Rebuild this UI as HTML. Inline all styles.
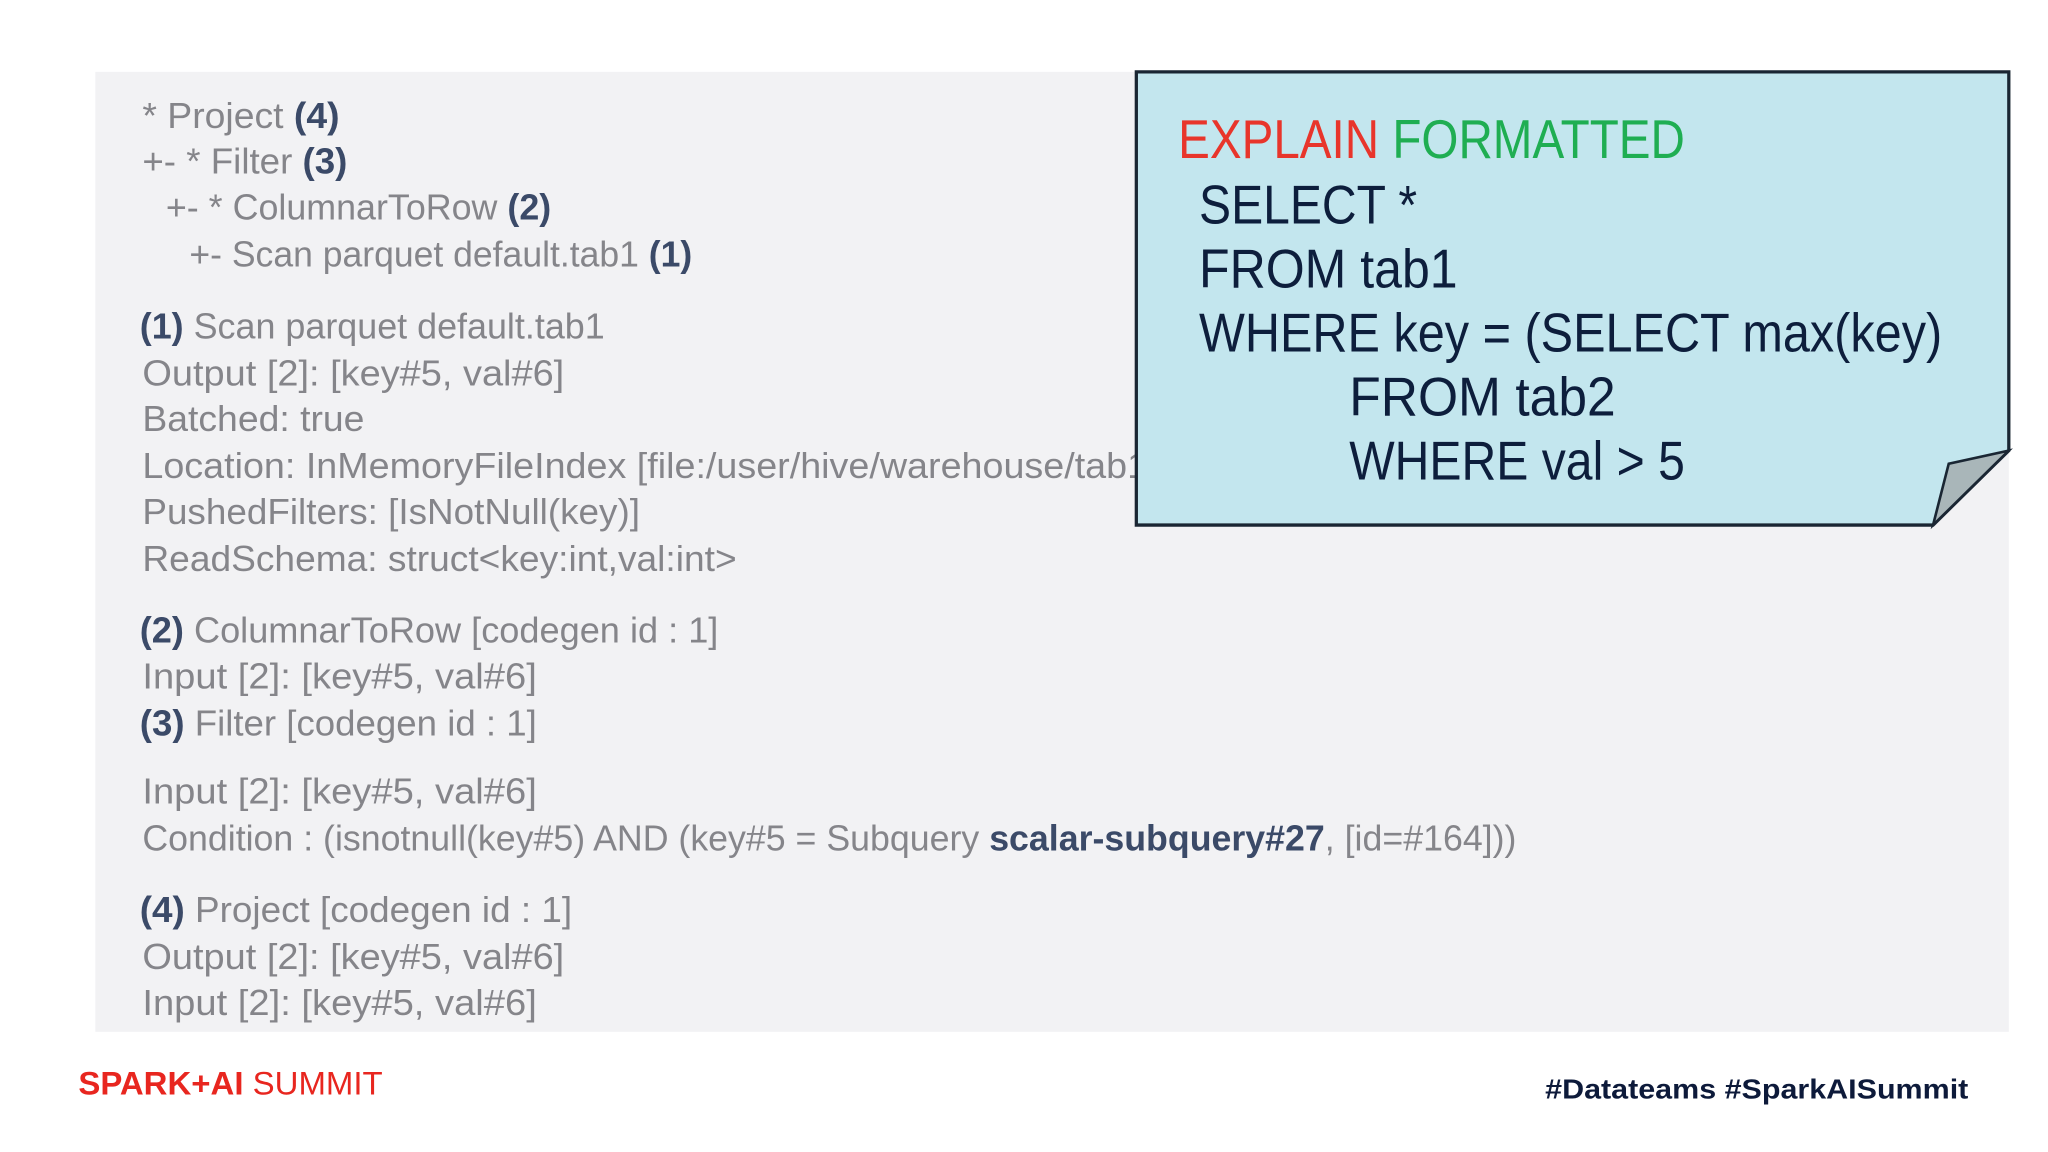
<!DOCTYPE html>
<html><head><meta charset="utf-8"><style>
html,body{margin:0;padding:0;background:#fff;width:2048px;height:1152px;overflow:hidden}
svg{display:block}
.g{font-family:"Liberation Sans",sans-serif;font-size:28px;fill:#85858a;font-weight:normal}
.b{font-weight:bold;fill:#3b4a68}
.q{font-family:"Liberation Sans",sans-serif;font-size:42px;fill:#0d1e3c}
</style></head><body>
<svg width="2048" height="1152" viewBox="0 0 1568 882" xmlns="http://www.w3.org/2000/svg" xml:space="preserve">
<rect x="0" y="0" width="1568" height="882" fill="#ffffff"/>
<rect x="73" y="55" width="1465" height="735" fill="#f2f2f4"/>
<g class="g">
<text x="109" y="98" textLength="151" lengthAdjust="spacingAndGlyphs">* Project <tspan class="b">(4)</tspan></text>
<text x="109" y="133" textLength="157" lengthAdjust="spacingAndGlyphs">+- * Filter <tspan class="b">(3)</tspan></text>
<text x="127" y="168" textLength="295" lengthAdjust="spacingAndGlyphs">+- * ColumnarToRow <tspan class="b">(2)</tspan></text>
<text x="145" y="204" textLength="385" lengthAdjust="spacingAndGlyphs">+- Scan parquet default.tab1 <tspan class="b">(1)</tspan></text>
<text x="107" y="259" textLength="356" lengthAdjust="spacingAndGlyphs"><tspan class="b">(1)</tspan> Scan parquet default.tab1</text>
<text x="109" y="295" textLength="323" lengthAdjust="spacingAndGlyphs">Output [2]: [key#5, val#6]</text>
<text x="109" y="330" textLength="170" lengthAdjust="spacingAndGlyphs">Batched: true</text>
<text x="109" y="366" textLength="770" lengthAdjust="spacingAndGlyphs">Location: InMemoryFileIndex [file:/user/hive/warehouse/tab1</text>
<text x="109" y="401" textLength="381" lengthAdjust="spacingAndGlyphs">PushedFilters: [IsNotNull(key)]</text>
<text x="109" y="437" textLength="455" lengthAdjust="spacingAndGlyphs">ReadSchema: struct&lt;key:int,val:int&gt;</text>
<text x="107" y="492" textLength="443" lengthAdjust="spacingAndGlyphs"><tspan class="b">(2)</tspan> ColumnarToRow [codegen id : 1]</text>
<text x="109" y="527" textLength="302" lengthAdjust="spacingAndGlyphs">Input [2]: [key#5, val#6]</text>
<text x="107" y="563" textLength="304" lengthAdjust="spacingAndGlyphs"><tspan class="b">(3)</tspan> Filter [codegen id : 1]</text>
<text x="109" y="615" textLength="302" lengthAdjust="spacingAndGlyphs">Input [2]: [key#5, val#6]</text>
<text x="109" y="651" textLength="1052" lengthAdjust="spacingAndGlyphs">Condition : (isnotnull(key#5) AND (key#5 = Subquery <tspan class="b">scalar-subquery#27</tspan>, [id=#164]))</text>
<text x="107" y="706" textLength="331" lengthAdjust="spacingAndGlyphs"><tspan class="b">(4)</tspan> Project [codegen id : 1]</text>
<text x="109" y="742" textLength="323" lengthAdjust="spacingAndGlyphs">Output [2]: [key#5, val#6]</text>
<text x="109" y="777" textLength="302" lengthAdjust="spacingAndGlyphs">Input [2]: [key#5, val#6]</text>
</g>
<polygon points="870,55 1538,55 1538,345 1480,402 870,402" fill="#c3e6ee" stroke="#1a2633" stroke-width="2.5"/>
<polygon points="1480,402 1538,345 1492,355" fill="#a9b6b9" stroke="#1a2633" stroke-width="2"/>
<text class="q" x="902" y="121" textLength="388" lengthAdjust="spacingAndGlyphs"><tspan fill="#e8352b">EXPLAIN</tspan> <tspan fill="#1fae52">FORMATTED</tspan></text>
<text class="q" x="918" y="171" textLength="167" lengthAdjust="spacingAndGlyphs">SELECT *</text>
<text class="q" x="918" y="220" textLength="198" lengthAdjust="spacingAndGlyphs">FROM  tab1</text>
<text class="q" x="918" y="269" textLength="569" lengthAdjust="spacingAndGlyphs">WHERE  key = (SELECT max(key)</text>
<text class="q" x="1033" y="318" textLength="204" lengthAdjust="spacingAndGlyphs">FROM  tab2</text>
<text class="q" x="1033" y="367" textLength="257" lengthAdjust="spacingAndGlyphs">WHERE  val &gt; 5</text>
<text x="60" y="838" font-family="Liberation Sans, sans-serif" font-size="25" fill="#e8261f" textLength="233" lengthAdjust="spacingAndGlyphs"><tspan font-weight="bold">SPARK+AI</tspan> SUMMIT</text>
<text x="1183" y="841" font-family="Liberation Sans, sans-serif" font-size="21" font-weight="bold" fill="#0d1a3a" textLength="324" lengthAdjust="spacingAndGlyphs">#Datateams  #SparkAISummit</text>
</svg>
</body></html>
